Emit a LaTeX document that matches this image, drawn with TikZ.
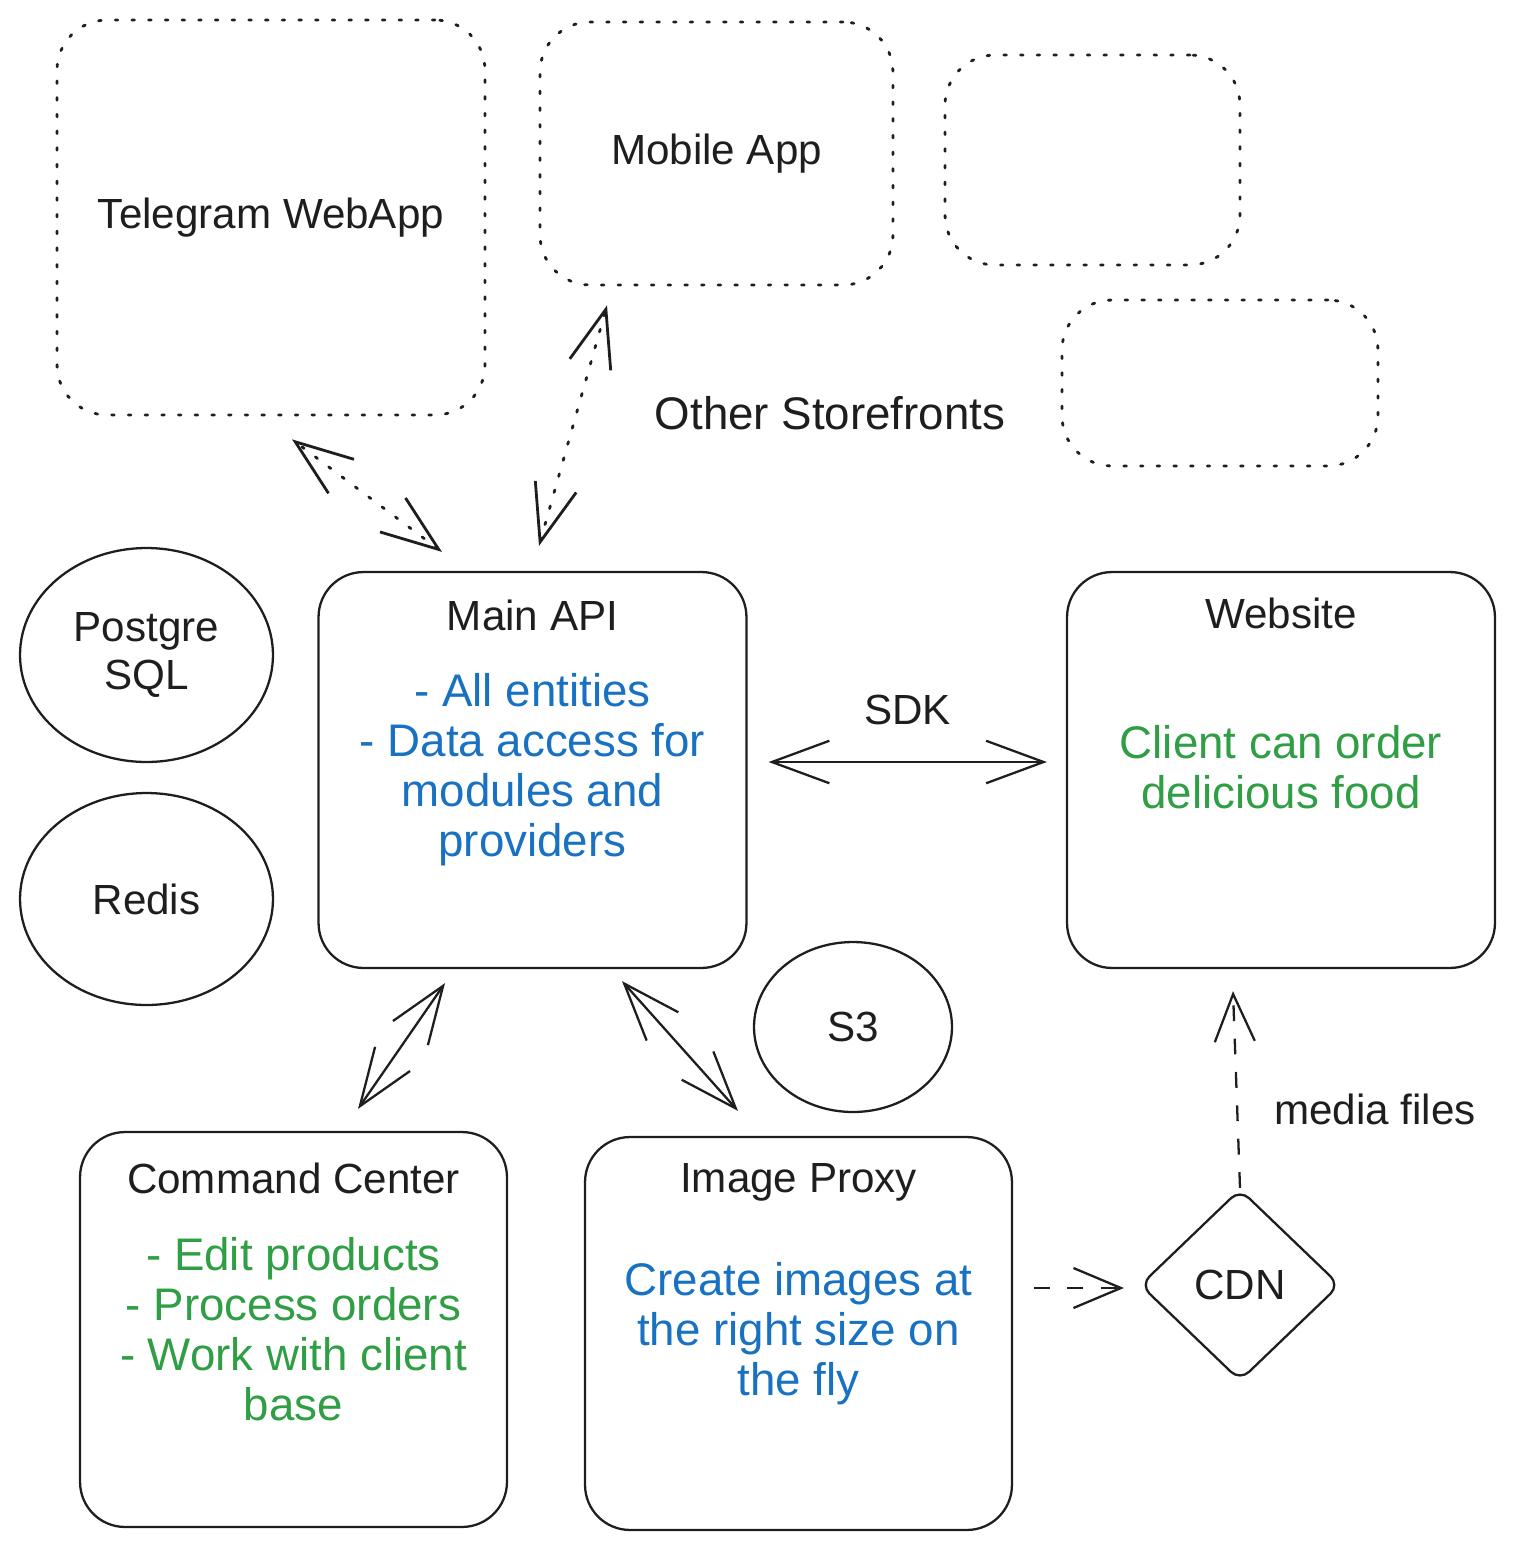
\documentclass[tikz,border=0pt]{standalone}
\usepackage{fontspec}
\setmainfont{Liberation Sans}
\usetikzlibrary{positioning,shapes.geometric,arrows.meta}

\definecolor{ink}{HTML}{1E1E1E}
\definecolor{noteblue}{HTML}{1971C2}
\definecolor{notegreen}{HTML}{2F9E44}

\tikzset{
	box/.style={draw=ink, line width=1.3pt, rounded corners=0.9cm, minimum width=8.56cm, minimum height=7.92cm},
	ghost/.style={draw=ink, line width=1.6pt, dash pattern=on 1.5pt off 8pt, line cap=round, rounded corners=1cm},
	store/.style={ellipse, draw=ink, line width=1.3pt, inner sep=0pt},
	title/.style={font=\fontsize{24}{27.5}\selectfont, text=ink, align=center},
	note/.style={font=\fontsize{26}{28.45}\selectfont, align=center},
	link/.style={draw=ink, line width=1.3pt, >={Straight Barb[length=1.15cm,width=0.85cm]}},
	dotlink/.style={link, line width=1.6pt, dash pattern=on 1.5pt off 8pt, line cap=round},
	dashlink/.style={link, dash pattern=on 9pt off 10pt, >={Straight Barb[length=0.95cm,width=0.8cm]}}
}

\begin{document}
\begin{tikzpicture}[x=0.02cm, y=-0.02cm]
	\useasboundingbox (0,0) rectangle (1515,1552);
	
	% STOREFRONTS
	
	\node [ghost, title, minimum width=8.56cm, minimum height=7.9cm] at (271,217.5) (tg) {Telegram WebApp};
	\node [ghost, title, minimum width=7.06cm, minimum height=5.26cm] at (716.5,153.5) (mob) {Mobile App};
	\node [ghost, minimum width=5.9cm, minimum height=4.2cm] at (1092.5,160) (more) {};
	\node [ghost, minimum width=6.32cm, minimum height=3.32cm] at (1220,383) (moremore) {};
	\node [note, text=ink] at (830,413) (others) {Other Storefronts};
	
	% MIDDLE ROW
	
	\node [store, title, minimum width=5.06cm, minimum height=4.28cm] at (146.5,655) (pg) {Postgre\\SQL};
	\node [store, title, minimum width=5.06cm, minimum height=4.24cm] at (146.5,899) (redis) {Redis};
	
	\node [box] at (532.5,770) (api) {};
	\node [title] at ([yshift=-0.9cm]api.north) (apititle) {Main API};
	\node [note, text=noteblue] at (api.center) (apinote) {- All entities\\- Data access for\\modules and\\providers};
	
	\node [box] at (1281,770) (web) {};
	\node [title] at ([yshift=-0.86cm]web.north) (webtitle) {Website};
	\node [note, text=notegreen] at ([yshift=0.06cm]web.center) (webnote) {Client can order\\delicious food};
	
	\node [store, title, minimum width=3.96cm, minimum height=3.4cm] at (853,1027) (s3) {S3};
	
	% SDK
	\draw [link, <->] ([shift={(21,-8)}]api.east) -- ([shift={(-19,-8)}]web.west)
	node [midway, above=0.6cm, title] {SDK};
	
	% BOTTOM ROW
	
	\node [box, minimum width=8.54cm, minimum height=7.9cm] at (293.5,1329.5) (cmd) {};
	\node [title] at ([yshift=-0.96cm]cmd.north) (cmdtitle) {Command Center};
	\node [note, text=notegreen] at (cmd.center) (cmdnote) {- Edit products\\- Process orders\\- Work with client\\base};
	
	\node [box, minimum width=8.54cm, minimum height=7.86cm] at (798.5,1333.5) (proxy) {};
	\node [title] at ([yshift=-0.92cm]proxy.north) (proxytitle) {Image Proxy};
	\node [note, text=noteblue] at (proxy.center) (proxynote) {Create images at\\the right size on\\the fly};
	
	\node [diamond, draw=ink, line width=1.3pt, rounded corners=0.25cm, inner sep=0pt, minimum width=4cm, minimum height=3.84cm, title] at (1240,1285) (cdn) {CDN};
	
	% Storefront links
	\draw [dotlink, <->] ([shift={(-90.5,-19)}]api.north) -- ([shift={(21,23)}]tg.south);
	\draw [dotlink, <->] ([shift={(6.5,-25)}]api.north) -- ([shift={(-109.5,19)}]mob.south);
	
	% Module links
	\draw [link, <->] ([shift={(-87.5,14)}]api.south) -- ([shift={(64.5,-22)}]cmd.north);
	\draw [link, <->] ([shift={(89.5,12)}]api.south) -- ([shift={(-60.5,-25)}]proxy.north);
	
	% Media
	\draw [dashlink, ->] ([shift={(21,-45.5)}]proxy.east) -- ([shift={(-15,3)}]cdn.west);
	\draw [dashlink, ->] (cdn.north) -- ([shift={(-48,22)}]web.south)
	node [pos=0.4, right=0.6cm, title] {media files};
	
\end{tikzpicture}
\end{document}
